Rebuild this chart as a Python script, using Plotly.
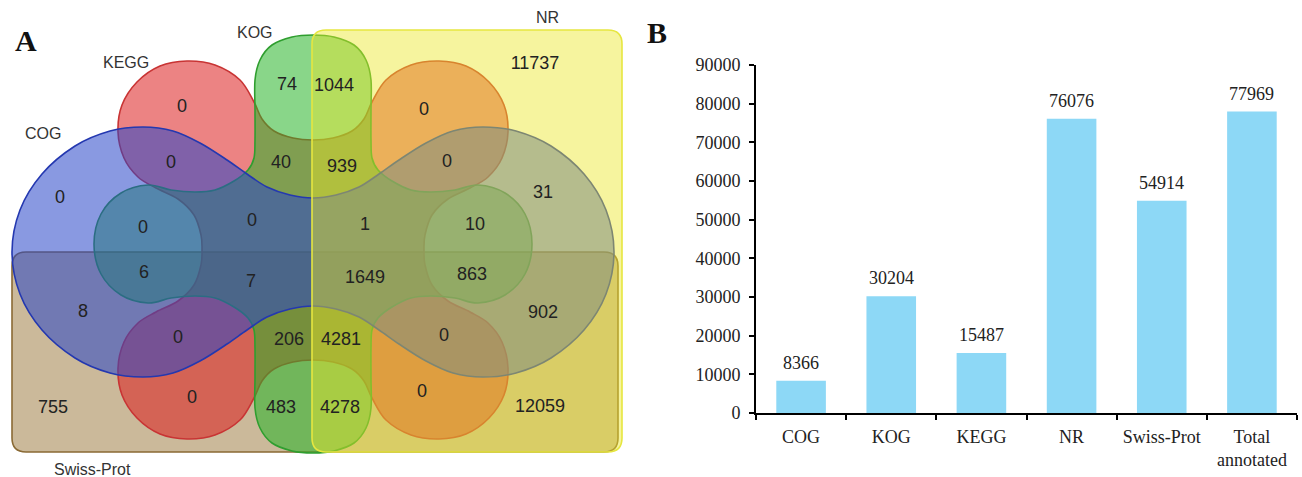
import plotly.graph_objects as go

# ---------------- data ----------------
bar_categories = ["COG", "KOG", "KEGG", "NR", "Swiss-Prot", "Total<br>annotated"]
bar_values = [8366, 30204, 15487, 76076, 54914, 77969]
y_ticks = [0, 10000, 20000, 30000, 40000, 50000, 60000, 70000, 80000, 90000]

set_names = ["COG", "KEGG", "KOG", "NR", "Swiss-Prot"]

# Venn region counts (order matches region_pos below)
venn_counts = [0, 74, 1044, 11737, 0,
               0, 0, 40, 939, 0, 31,
               0, 0, 1, 10,
               6, 7, 1649, 863,
               8, 902,
               0, 206, 4281, 0,
               755, 0, 483, 4278, 0, 12059]

# ---------------- layout helpers ----------------
region_pos = [(182, 107), (287, 85), (334, 86), (535, 64), (424, 110),
              (171, 163), (60, 198), (281, 163), (342, 167), (447, 162), (543, 193),
              (143, 228), (252, 221), (365, 225), (475, 225),
              (144, 273), (251, 282), (365, 278), (472, 275),
              (83, 312), (543, 313),
              (178, 338), (289, 340), (341, 340), (444, 336),
              (53, 408), (192, 398), (281, 408), (340, 408), (422, 392), (540, 407)]
vc = [str(c) for c in venn_counts]
vx = [p[0] for p in region_pos]
vy = [p[1] for p in region_pos]


def full_loop(q, cx, cy):
    q2 = [(x, 2 * cy - y) for (x, y) in reversed(q[:-1])]
    left = q + q2
    right = [(2 * cx - x, y) for (x, y) in reversed(left[1:-1])]
    return left + right


def smooth_path(pts):
    n = len(pts)
    d = f"M{pts[0][0]:.1f},{pts[0][1]:.1f}"
    for i in range(n):
        p0 = pts[i - 1]; p1 = pts[i]; p2 = pts[(i + 1) % n]; p3 = pts[(i + 2) % n]
        c1 = (p1[0] + (p2[0] - p0[0]) / 6, p1[1] + (p2[1] - p0[1]) / 6)
        c2 = (p2[0] - (p3[0] - p1[0]) / 6, p2[1] - (p3[1] - p1[1]) / 6)
        d += f" C{c1[0]:.1f},{c1[1]:.1f} {c2[0]:.1f},{c2[1]:.1f} {p2[0]:.1f},{p2[1]:.1f}"
    return d + " Z"


def rrect(x0, y0, x1, y1, r):
    return (f"M{x0+r},{y0} L{x1-r},{y0} Q{x1},{y0} {x1},{y0+r} L{x1},{y1-r} "
            f"Q{x1},{y1} {x1-r},{y1} L{x0+r},{y1} Q{x0},{y1} {x0},{y1-r} "
            f"L{x0},{y0+r} Q{x0},{y0} {x0+r},{y0} Z")


CX = 313
cog_q = [(313, 198), (290, 195), (267, 187), (247, 174), (227, 160), (200, 143), (173, 131),
         (143, 127), (110, 131), (75, 146), (42, 174), (20, 210), (12, 252)]
kegg_q = [(313, 140), (293, 138), (274, 131), (262, 119), (254, 102), (240, 80), (215, 65),
          (187, 61), (160, 66), (137, 82), (122, 105), (118, 132), (124, 158), (138, 177),
          (156, 188), (178, 199), (194, 215), (201, 235), (202, 250)]
kog_q = [(313, 35), (292, 37), (272, 45), (260, 60), (255, 80), (255, 110), (255, 140),
         (254, 158), (248, 170), (234, 181), (215, 190), (195, 192), (171, 190), (148, 185),
         (121, 193), (101, 214), (94, 244)]

cog_path = smooth_path(full_loop(cog_q, CX, 252))
kegg_path = smooth_path(full_loop(kegg_q, CX, 250))
kog_path = smooth_path(full_loop(kog_q, CX, 244))
swiss_path = rrect(12, 252, 618, 452, 14)
nr_path = rrect(312, 30, 622, 452, 14)

shapes = []
for path, fill, line in [
    (swiss_path, "rgba(140,100,30,0.45)", "#8a6a35"),
    (kegg_path, "rgba(220,30,30,0.55)", "#c83434"),
    (kog_path, "rgba(40,180,40,0.55)", "#2f9e2f"),
    (cog_path, "rgba(40,70,200,0.55)", "#2438b0"),
    (nr_path, "rgba(235,230,40,0.45)", "#e6e640"),
]:
    shapes.append(dict(type="path", path=path, xref="x2", yref="y2", fillcolor=fill,
                       line=dict(color=line, width=1.6), layer="below"))

serif = "Liberation Serif, Times New Roman, serif"
sans = "Liberation Sans, Arial, sans-serif"

fig = go.Figure()

fig.add_trace(go.Bar(x=bar_categories, y=bar_values, marker_color="#8dd8f6", width=0.55,
                     marker_line_width=0, xaxis="x", yaxis="y", hoverinfo="skip", showlegend=False))

fig.add_trace(go.Scatter(x=vx, y=vy, text=vc, mode="text", xaxis="x2", yaxis="y2",
                         textfont=dict(family=sans, size=18, color="#222"),
                         hoverinfo="skip", showlegend=False))

annotations = []
for c, v in zip(bar_categories, bar_values):
    annotations.append(dict(x=c, y=v, xref="x", yref="y", text=str(v), showarrow=False,
                            yanchor="bottom", xanchor="center", yshift=6,
                            font=dict(family=serif, size=18, color="#222")))

label_pos = {"COG": (43, 133), "KEGG": (126, 62), "KOG": (255, 32), "NR": (547, 17), "Swiss-Prot": (92, 469)}
for name in set_names:
    px, py = label_pos[name]
    annotations.append(dict(x=px, y=py, xref="x2", yref="y2", text=name, showarrow=False,
                            xanchor="center", yanchor="middle",
                            font=dict(family=sans, size=16, color="#333")))

annotations.append(dict(x=26, y=40, xref="x2", yref="y2", text="<b>A</b>", showarrow=False,
                        xanchor="center", yanchor="middle",
                        font=dict(family=serif, size=30, color="#111")))
annotations.append(dict(x=657 / 1302, y=1 - 33 / 477, xref="paper", yref="paper", text="<b>B</b>",
                        xanchor="center", yanchor="middle",
                        showarrow=False, font=dict(family=serif, size=30, color="#111")))

fig.update_layout(
    template="none",
    width=1302, height=477, autosize=False, margin=dict(l=0, r=0, t=0, b=0, pad=0),
    paper_bgcolor="white", plot_bgcolor="rgba(0,0,0,0)",
    shapes=shapes, annotations=annotations, showlegend=False,
    xaxis=dict(domain=[756 / 1302, 1297 / 1302], anchor="y", type="category", automargin=False,
               showline=True, linecolor="black", linewidth=2, ticks="outside", tickson="boundaries",
               ticklen=5, tickwidth=2, tickcolor="black", showgrid=False, zeroline=False,
               ticklabelstandoff=6,
               tickfont=dict(family=serif, size=18, color="#222"), fixedrange=True),
    yaxis=dict(domain=[64 / 477, 412 / 477], anchor="x", range=[0, 90000], tickvals=y_ticks,
               tickformat="d", showline=True, linecolor="black", linewidth=2, ticks="outside",
               automargin=False, ticklabelstandoff=5,
               ticklen=5, tickwidth=2, tickcolor="black", showgrid=False, zeroline=False,
               tickfont=dict(family=serif, size=18, color="#222"), fixedrange=True),
    xaxis2=dict(domain=[0, 640 / 1302], anchor="y2", range=[0, 640], visible=False,
                automargin=False, fixedrange=True),
    yaxis2=dict(domain=[0, 1], anchor="x2", range=[477, 0], visible=False,
                automargin=False, fixedrange=True),
)

fig.write_html("out.html")
